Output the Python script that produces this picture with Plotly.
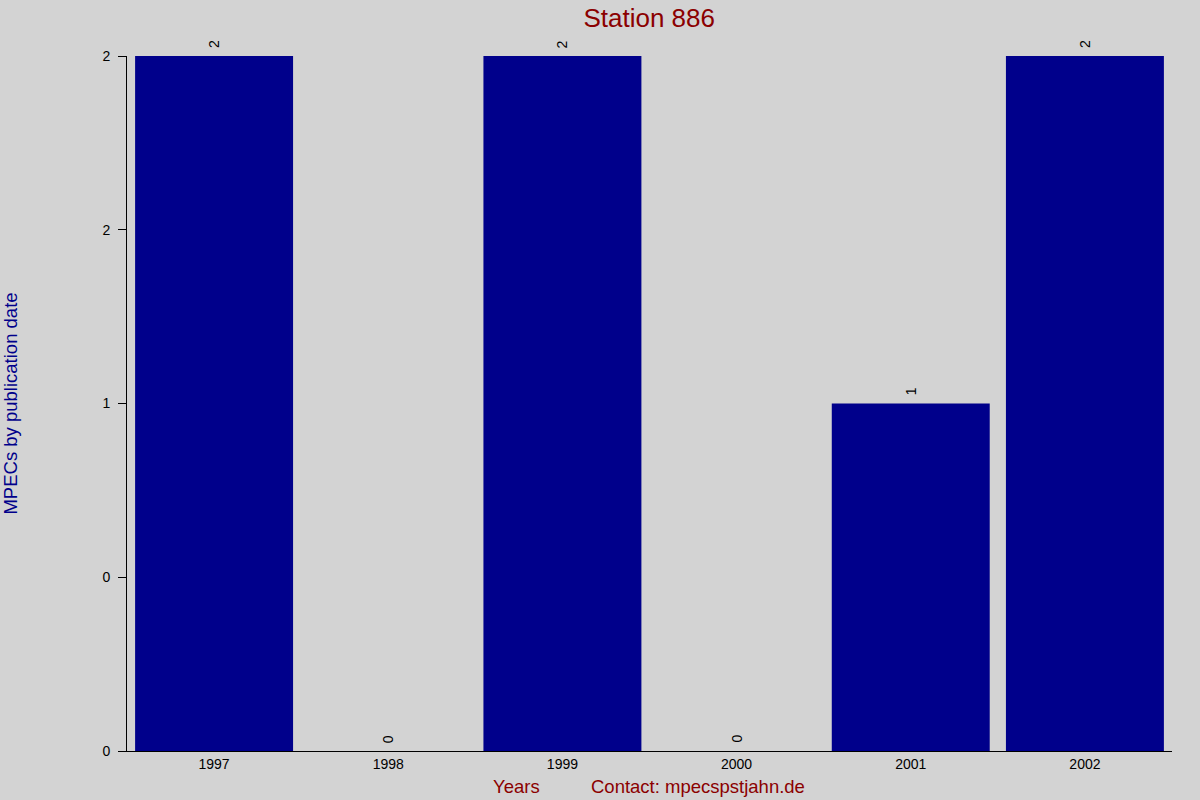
import plotly.graph_objects as go

# Data
years = ["1997", "1998", "1999", "2000", "2001", "2002"]
mpecs = [2, 0, 2, 0, 1, 2]
ytick_vals = [0, 0.5, 1, 1.5, 2]
ytick_text = ["0", "0", "1", "2", "2"]

bars = go.Bar(
    x=years,
    y=mpecs,
    marker=dict(color="#00008b", line=dict(width=0)),
    hoverinfo="x+y",
)

# rotated value labels above each bar (x as category index)
labels = []
for i, v in enumerate(mpecs):
    labels.append(dict(
        x=i, y=v, text=str(v),
        textangle=-90,
        showarrow=False,
        xanchor="center", yanchor="bottom",
        yshift=6,
        font=dict(size=14, color="black"),
    ))

labels.append(dict(
    x=0.373, y=-0.0504, xref="paper", yref="paper",
    text="Years", showarrow=False,
    font=dict(size=18.5, color="#8b0000"),
    xanchor="center", yanchor="middle",
))
labels.append(dict(
    x=0.546, y=-0.0504, xref="paper", yref="paper",
    text="Contact: mpecspstjahn.de", showarrow=False,
    font=dict(size=18.5, color="#8b0000"),
    xanchor="center", yanchor="middle",
))

layout = go.Layout(
    title=dict(
        text="Station 886",
        x=0.541, y=0.978, xanchor="center", yanchor="middle",
        font=dict(size=26, color="#8b0000"),
    ),
    font=dict(family="Liberation Sans, Arial, sans-serif", color="black"),
    paper_bgcolor="#d3d3d3",
    plot_bgcolor="#d3d3d3",
    width=1200,
    height=800,
    margin=dict(l=127, r=28, t=56, b=49),
    bargap=0.093,
    showlegend=False,
    xaxis=dict(
        type="category",
        range=[-0.5, len(years) - 0.5],
        automargin=False,
        showgrid=False,
        showline=True,
        linecolor="black",
        linewidth=1,
        ticks="",
        tickfont=dict(size=14),
    ),
    yaxis=dict(
        range=[0, 2],
        automargin=False,
        tickvals=ytick_vals,
        ticktext=ytick_text,
        showgrid=False,
        zeroline=False,
        showline=True,
        linecolor="black",
        linewidth=1,
        ticks="outside",
        ticklen=8,
        tickcolor="black",
        ticklabelstandoff=5,
        tickfont=dict(size=14),
        title=dict(
            text="MPECs by publication date",
            font=dict(size=18.5, color="#00008b"),
            standoff=82,
        ),
    ),
    annotations=labels,
)

fig = go.Figure(data=[bars], layout=layout)
fig.write_html(
    "out.html",
    config={"displayModeBar": False},
    post_script="document.body.style.margin='0';document.body.style.background='#d3d3d3';",
)
